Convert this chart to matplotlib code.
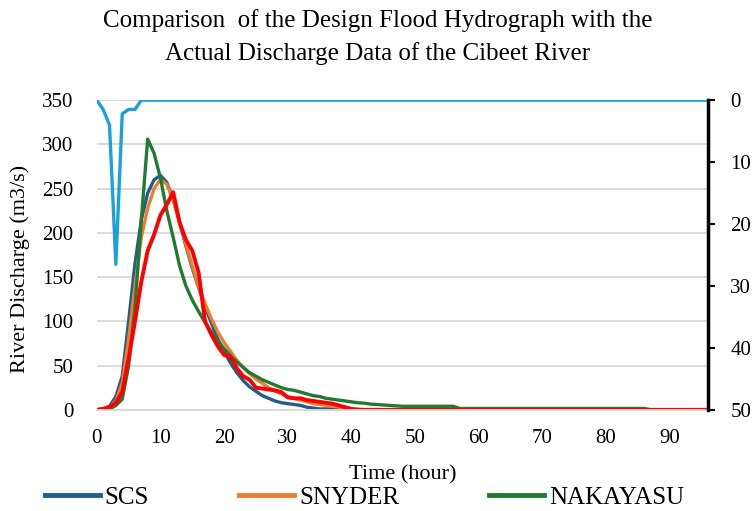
import numpy as np
import matplotlib
matplotlib.use('Agg')
import matplotlib.pyplot as plt
from matplotlib.lines import Line2D

plt.rcParams['font.family'] = ['Liberation Serif', 'DejaVu Serif']

title = 'Comparison  of the Design Flood Hydrograph with the\nActual Discharge Data of the Cibeet River'

hours = list(range(0, 97))

scs = [0, 1, 4, 15, 38, 100, 165, 215, 245, 260,
       265, 257, 238, 212, 185, 160, 138, 117, 98, 80,
       66, 53, 42, 33, 26, 21, 16, 13, 10, 8,
       7, 6, 5, 3, 2, 1, 1, 1, 1, 1,
       0, 0, 0, 0, 0, 0, 0, 0, 0, 0,
       0, 0, 0, 0, 0, 0, 0, 0, 0, 0,
       0, 0, 0, 0, 0, 0, 0, 0, 0, 0,
       0, 0, 0, 0, 0, 0, 0, 0, 0, 0,
       0, 0, 0, 0, 0, 0, 0, 0, 0, 0,
       0, 0, 0, 0, 0, 0, 0]

snyder = [0, 1, 3, 10, 30, 80, 140, 195, 228, 250,
          260, 255, 237, 212, 187, 162, 140, 120, 103, 88,
          76, 66, 56, 48, 41, 35, 30, 25, 21, 18,
          15, 13, 11, 9, 7, 6, 5, 4, 3, 2,
          1, 1, 0, 0, 0, 0, 0, 0, 0, 0,
          0, 0, 0, 0, 0, 0, 0, 0, 0, 0,
          0, 0, 0, 0, 0, 0, 0, 0, 0, 0,
          0, 0, 0, 0, 0, 0, 0, 0, 0, 0,
          0, 0, 0, 0, 0, 0, 0, 0, 0, 0,
          0, 0, 0, 0, 0, 0, 0]

nakayasu = [0, 0, 1, 5, 12, 50, 115, 215, 306, 290,
            262, 225, 195, 163, 140, 124, 111, 99, 88, 78,
            69, 61, 54, 48, 42, 38, 34, 31, 28, 25,
            23, 22, 20, 18, 16, 15, 13, 12, 11, 10,
            9, 8, 7.5, 6.5, 6, 5.5, 5, 4.5, 4, 4,
            4, 4, 4, 4, 4, 4, 4, 1.5, 1.5, 1.5,
            1.5, 1.5, 1.5, 1.5, 1.5, 1.5, 1.5, 1.5, 1.5, 1.5,
            1.5, 1.5, 1.5, 1.5, 1.5, 1.5, 1.5, 1.5, 1.5, 1.5,
            1.5, 1.5, 1.5, 1.5, 1.5, 1.5, 1.5, 0, 0, 0,
            0, 0, 0, 0, 0, 0, 0]

actual = [0, 1, 3, 8, 20, 58, 100, 145, 180, 198,
          220, 232, 246, 212, 192, 180, 155, 100, 85, 72,
          62, 60, 47, 38, 34, 25, 24, 23, 22, 20,
          14, 13, 13, 11, 10, 9, 8, 7, 5, 3,
          1, 0, 0, 0, 0, 0, 0, 0, 0, 0,
          0, 0, 0, 0, 0, 0, 0, 0, 0, 0,
          0, 0, 0, 0, 0, 0, 0, 0, 0, 0,
          0, 0, 0, 0, 0, 0, 0, 0, 0, 0,
          0, 0, 0, 0, 0, 0, 0, 0, 0, 0,
          0, 0, 0, 0, 0, 0, 0]

rain = [0, 1.5, 4, 26.5, 2.2, 1.5, 1.5, 0, 0, 0,
        0, 0, 0, 0, 0, 0, 0, 0, 0, 0,
        0, 0, 0, 0, 0, 0, 0, 0, 0, 0,
        0, 0, 0, 0, 0, 0, 0, 0, 0, 0,
        0, 0, 0, 0, 0, 0, 0, 0, 0, 0,
        0, 0, 0, 0, 0, 0, 0, 0, 0, 0,
        0, 0, 0, 0, 0, 0, 0, 0, 0, 0,
        0, 0, 0, 0, 0, 0, 0, 0, 0, 0,
        0, 0, 0, 0, 0, 0, 0, 0, 0, 0,
        0, 0, 0, 0, 0, 0, 0]

c_scs = '#1F5F8B'
c_snyder = '#ED7D31'
c_naka = '#217A32'
c_actual = '#FF0000'
c_rain = '#1CA2DB'

fig = plt.figure(figsize=(7.56, 5.11), dpi=100)
ax = fig.add_axes([0.128, 0.198, 0.8085, 0.606])
ax2 = ax.twinx()

ax.plot(hours, scs, color=c_scs, lw=2.4, label='SCS')
ax.plot(hours, snyder, color=c_snyder, lw=2.4, label='SNYDER')
ax.plot(hours, nakayasu, color=c_naka, lw=2.4, label='NAKAYASU')
ax.plot(hours, actual, color=c_actual, lw=2.8, label='ACTUAL')

ax.set_xlim(0, 96)
ax.set_ylim(0, 350)
ax.set_yticks(np.arange(0, 351, 50))
ax.set_xticks(np.arange(0, 91, 10))
ax.grid(axis='y', color='#D9D9D9', lw=1.3)
ax.set_axisbelow(True)
for s in ['left', 'right', 'top']:
    ax.spines[s].set_visible(False)
ax.spines['bottom'].set_color('#D9D9D9')
ax.spines['bottom'].set_linewidth(1.3)
ax.tick_params(axis='x', length=0, labelsize=15, pad=14)
ax.tick_params(axis='y', length=0, labelsize=15, pad=17)
ax.set_xlabel('Time (hour)', fontsize=16, labelpad=12)
ax.set_ylabel('River Discharge (m3/s)', fontsize=16)
ax.yaxis.set_label_coords(-0.11, 0.455)

ax2.plot(hours, rain, color=c_rain, lw=2.4)
ax2.set_ylim(50, 0)
ax2.set_yticks(np.arange(0, 51, 10))
for s in ['left', 'top', 'bottom']:
    ax2.spines[s].set_visible(False)
ax2.spines['right'].set_linewidth(2.5)
ax2.spines['right'].set_color('black')
ax2.tick_params(axis='y', direction='out', length=5, width=1.5, labelsize=15, pad=11)

fig.suptitle(title, fontsize=18, y=0.982, linespacing=1.55)

handles = [Line2D([], [], color=c_scs, lw=3.5),
           Line2D([], [], color=c_snyder, lw=3.5),
           Line2D([], [], color=c_naka, lw=3.5)]
fig.legend(handles, ['SCS', 'SNYDER', 'NAKAYASU'], loc='center left',
           bbox_to_anchor=(0.059, 0.026), ncol=3, frameon=False, fontsize=18,
           handlelength=2.2, handletextpad=0.2, columnspacing=3.6,
           borderpad=0, borderaxespad=0)

fig.savefig('out.png', dpi=100)
